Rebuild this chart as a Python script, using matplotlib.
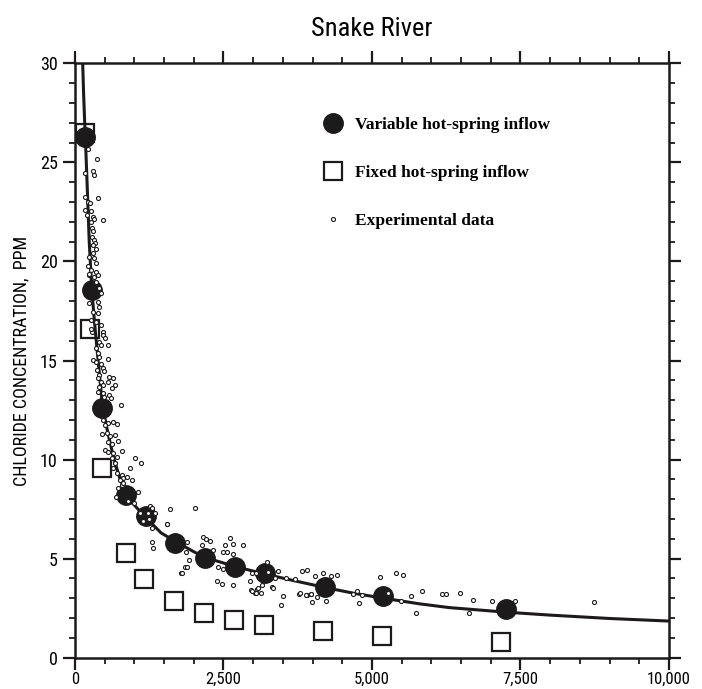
import matplotlib
matplotlib.use("Agg")
import matplotlib.pyplot as plt
from matplotlib.ticker import MultipleLocator, FuncFormatter

NARROW = ["Roboto Condensed", "Liberation Sans Narrow", "Liberation Sans", "DejaVu Sans"]
SERIF = ["Liberation Serif", "DejaVu Serif"]

# model curve
curve_x = [130, 145, 160, 177, 207, 240, 283, 330, 380, 463, 550, 650, 750, 860,
           1000, 1200, 1450, 1700, 2000, 2200, 2700, 3200, 3700, 4200, 4700, 5200,
           5800, 6300, 7250, 8000, 9000, 10000]
curve_y = [30.0, 28.5, 27.3, 26.1, 23.7, 21.0, 18.6, 16.9, 15.3, 12.7, 11.4, 10.1,
           9.1, 8.25, 7.7, 7.05, 6.3, 5.85, 5.35, 5.05, 4.6, 4.22, 3.88, 3.55, 3.25,
           3.0, 2.72, 2.53, 2.3, 2.15, 1.98, 1.85]

# variable hot-spring inflow (filled circles)
var_x = [168, 283, 463, 859, 1196, 1684, 2189, 2694, 3200, 4210, 5192, 7258]
var_y = [26.3, 18.56, 12.62, 8.21, 7.15, 5.77, 5.02, 4.56, 4.26, 3.55, 3.13, 2.46]

# fixed hot-spring inflow (open squares)
fix_x = [168, 261, 463, 859, 1170, 1667, 2173, 2677, 3180, 4180, 5172, 7179]
fix_y = [26.5, 16.6, 9.58, 5.28, 3.99, 2.87, 2.28, 1.90, 1.64, 1.33, 1.10, 0.80]

# experimental data (small dots)
exp_x = [370, 298, 325, 173, 382, 173, 214, 253, 173, 269, 197, 298, 325, 466, 269,
         286, 308, 286, 325, 342, 308, 354, 298, 231, 325, 354, 214, 269, 354, 231,
         325, 224, 241, 382, 354, 409, 438, 241, 382, 409, 298, 382, 269, 286, 269,
         354, 438, 466, 477, 510, 409, 438, 354, 551, 382, 409, 298, 354, 561, 438,
         466, 365, 493, 409, 578, 635, 382, 438, 551, 466, 409, 679, 623, 382, 466,
         578, 493, 606, 775, 477, 561, 645, 702, 505, 450, 534, 589, 674, 561, 618,
         729, 505, 561, 645, 786, 618, 702, 674, 1010, 1106, 645, 702, 786, 813, 758,
         871, 786, 729, 690, 1066, 1263, 1600, 2021, 955, 926, 803, 1291, 1544, 1347,
         1291, 1291, 1308, 1554, 1852, 1780, 900, 1000, 1100, 1150, 1250, 1230,
         1891, 1869, 1925, 1891, 1797, 2161, 2206, 2273, 2134, 2329, 2610, 2526, 2666,
         2834, 2487, 2565, 2666, 2413, 2487, 2386, 2470, 2666, 2976, 2947, 3048, 3238,
         3424, 3368, 3553, 3705, 3312, 3339, 3144, 2959, 3070, 3031, 3127, 3508, 3818,
         3912, 4042, 4181, 4306, 4407, 3902, 3969, 3777, 4080, 2976, 3048, 3087, 3255,
         3469, 3789, 3890, 3974, 3986, 4227, 4677, 4754, 4828, 4788, 5136, 5406, 5518,
         5276, 5485, 5653, 5838, 5742, 6175, 6248, 6483, 6708, 6640, 7017, 7410, 8745]
exp_y = [25.17, 24.58, 24.38, 24.48, 23.19, 23.27, 23.02, 22.97, 22.6, 22.57, 22.35,
         22.23, 22.13, 22.1, 22.01, 21.68, 21.55, 21.25, 21.09, 20.92, 20.83, 20.62,
         20.41, 20.21, 20.16, 19.91, 19.77, 19.57, 19.49, 19.32, 19.23, 25.7, 19.39,
         19.32, 18.98, 18.65, 18.39, 17.89, 17.97, 17.72, 17.47, 17.39, 17.05, 16.46,
         16.58, 16.96, 16.79, 16.46, 16.29, 16.12, 15.95, 15.79, 15.62, 15.79, 15.37,
         15.19, 15.03, 14.94, 15.06, 14.83, 14.61, 14.52, 14.49, 14.27, 14.18, 14.1,
         14.1, 13.93, 13.93, 13.76, 13.68, 13.76, 13.6, 13.43, 13.35, 13.26, 13.18,
         13.09, 12.76, 12.0, 11.83, 11.91, 11.8, 11.75, 11.3, 11.33, 11.19, 11.24,
         10.9, 10.79, 10.95, 10.49, 10.4, 10.32, 10.45, 10.07, 10.15, 9.81, 10.07,
         9.81, 9.56, 9.31, 9.22, 9.06, 8.97, 9.11, 8.72, 8.55, 8.13, 8.38, 7.66, 7.49,
         7.54, 8.97, 9.59, 8.8, 7.54, 6.75, 7.29, 6.53, 5.86, 5.52, 6.75, 4.59, 4.26,
         7.9, 7.8, 7.3, 6.9, 7.0, 7.3, 5.86, 5.35, 4.93, 4.59, 4.26, 6.11, 5.98, 5.91,
         5.69, 5.44, 6.03, 5.69, 5.74, 5.69, 5.35, 5.35, 5.23, 4.56, 4.46, 3.89, 3.72,
         3.67, 4.26, 3.89, 4.29, 4.85, 4.39, 4.01, 4.04, 3.96, 3.58, 3.5, 3.67, 3.42,
         3.45, 3.25, 3.28, 3.11, 4.38, 4.43, 4.12, 4.26, 4.12, 4.17, 3.17, 3.22, 3.22,
         3.05, 3.38, 3.25, 3.5, 4.34, 2.66, 3.25, 3.17, 3.22, 2.8, 2.88, 3.22, 3.37,
         3.17, 2.75, 4.06, 4.26, 4.17, 3.28, 2.88, 3.13, 3.38, 2.24, 3.22, 3.2, 3.25,
         2.91, 2.27, 2.86, 2.86, 2.8]

INK = "#1c1a1a"

fig = plt.figure(figsize=(7.02, 6.89), dpi=100)
ax = fig.add_axes([0.1068, 0.0454, 0.8462, 0.8627])

ax.plot(curve_x, curve_y, color=INK, lw=2.2, zorder=2)
sq, = ax.plot(fix_x, fix_y, "s", ms=13, mfc="none", mec=INK, mew=1.6,
              ls="none", zorder=3)
dots_v, = ax.plot(var_x, var_y, "o", ms=14, mfc=INK, mec=INK, ls="none", zorder=4)
ex, = ax.plot(exp_x, exp_y, "o", ms=2.9, mfc="white", mec=INK, mew=0.8,
              ls="none", zorder=5)

ax.set_xlim(0, 10000)
ax.set_ylim(0, 30)
ax.xaxis.set_major_locator(MultipleLocator(2500))
ax.xaxis.set_minor_locator(MultipleLocator(500))
ax.yaxis.set_major_locator(MultipleLocator(5))
ax.yaxis.set_minor_locator(MultipleLocator(1))
ax.xaxis.set_major_formatter(FuncFormatter(lambda v, p: f"{int(v):,}"))
ax.yaxis.set_major_formatter(FuncFormatter(lambda v, p: f"{int(v)}"))

for s in ax.spines.values():
    s.set_linewidth(1.8)
    s.set_color(INK)
ax.tick_params(which="both", direction="out", top=True, right=True, color=INK)
ax.tick_params(which="major", length=8.5, width=1.6)
ax.tick_params(which="minor", length=4.3, width=1.3)
ax.tick_params(axis="x", labelsize=12, pad=1.5)
ax.tick_params(axis="y", labelsize=13, pad=4)
for lab in ax.get_xticklabels() + ax.get_yticklabels():
    lab.set_family(NARROW)

ax.set_ylabel("CHLORIDE CONCENTRATION,  PPM", family=NARROW, fontsize=13, labelpad=7)
ax.set_title("Snake River", family=NARROW, fontsize=19, pad=20)

leg = ax.legend([dots_v, sq, ex],
                ["Variable hot-spring inflow", "Fixed hot-spring inflow", "Experimental data"],
                loc="upper left", bbox_to_anchor=(0.402, 0.925), frameon=False,
                borderpad=0, handlelength=1.2, handletextpad=0.7, labelspacing=1.85,
                prop={"family": SERIF, "weight": "bold", "size": 12.5})

fig.savefig("out.png", dpi=100)
